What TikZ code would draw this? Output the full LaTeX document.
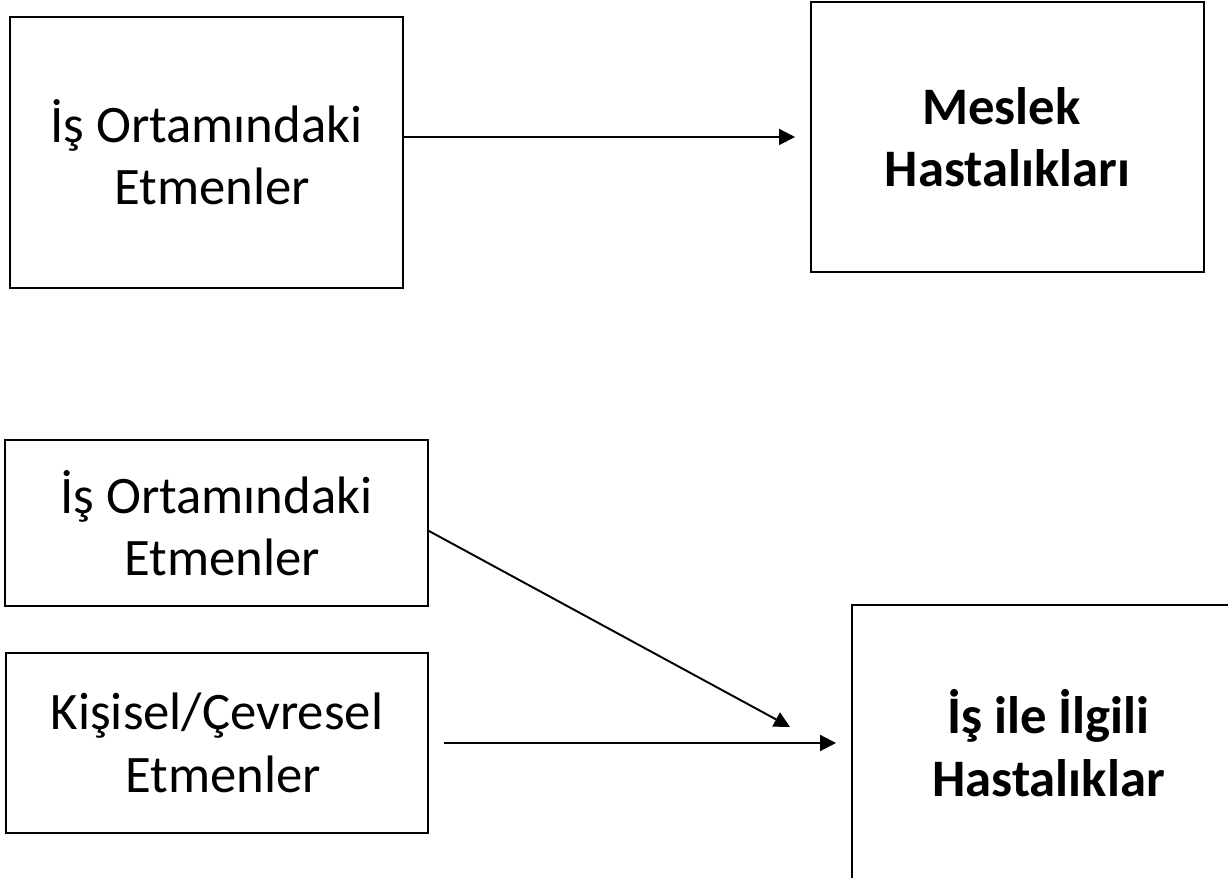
\documentclass[tikz,border=0pt]{standalone}
\usepackage{fontspec}
\setmainfont{Carlito}
\usetikzlibrary{arrows.meta}
\tikzset{
	kutu/.style={draw, line width=1.1pt, inner sep=0pt, align=center, font=\fontsize{30}{35.5}\selectfont},
	kalin/.style={kutu, font=\fontsize{30}{35.5}\selectfont\bfseries},
	ok/.style={-{Triangle[length=9pt,width=9pt]}, line width=1.1pt}
}
\begin{document}
\begin{tikzpicture}
	\clip (0,0) rectangle (24.56,17.56);
	% Meslek hastaliklari
		\node[kutu, minimum width=7.86cm, minimum height=5.42cm] (k1) at (4.13,14.51) {İş Ortamındaki\\\hspace*{0.23em}Etmenler};
		\node[kalin, minimum width=7.86cm, minimum height=5.40cm] (k2) at (20.15,14.82) {Meslek\hspace*{0.23em}\\Hastalıkları};
		\coordinate (u1) at ([xshift=-0.3cm]k2.west);
		\draw[ok] (k1.east |- u1) -- (u1);

	% Is ile ilgili hastaliklar
		\node[kutu, minimum width=8.46cm, minimum height=3.32cm] (k3) at (4.33,7.10) {İş Ortamındaki\\\hspace*{0.23em}Etmenler};
		\node[kutu, minimum width=8.44cm, minimum height=3.60cm] (k4) at (4.34,2.70) {Kişisel/Çevresel\\\hspace*{0.23em}Etmenler};
		\node[kalin, minimum width=7.86cm, minimum height=5.52cm] (k5) at (20.97,2.70) {İş ile İlgili\\Hastalıklar};
		\coordinate (u2) at (15.8,3.02);
		\draw[ok] ([yshift=-0.16cm]k3.east) -- (u2);
		\draw[ok] ([xshift=0.3cm]k4.east) -- ([xshift=-0.3cm]k5.west);
\end{tikzpicture}
\end{document}
